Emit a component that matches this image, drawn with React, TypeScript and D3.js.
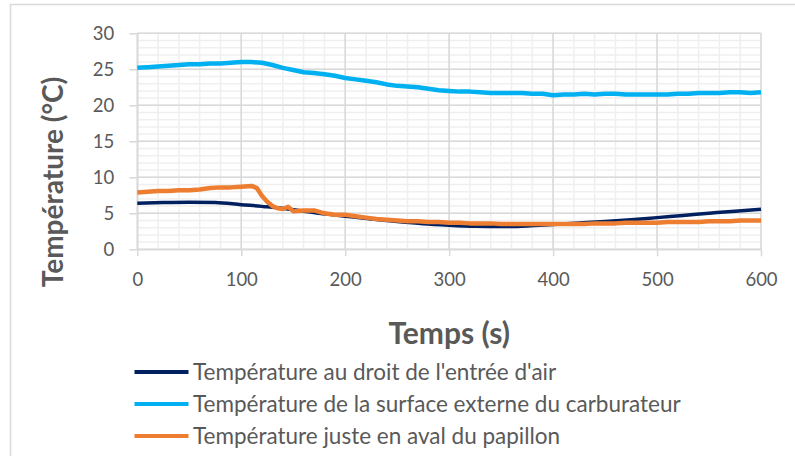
import React, { useRef, useEffect } from 'react';
import * as d3 from 'd3';

// time (s) and temperatures (°C)
const timeAir = [0, 25, 50, 75, 100, 125, 150, 175, 200, 225, 250, 275, 300, 325, 350, 375, 400, 425, 450, 475, 500, 525, 550, 575, 600];
const tempAir = [6.4, 6.5, 6.55, 6.5, 6.2, 5.9, 5.5, 5.0, 4.6, 4.2, 3.85, 3.55, 3.35, 3.2, 3.15, 3.25, 3.45, 3.65, 3.85, 4.1, 4.4, 4.7, 5.0, 5.3, 5.55];

const timeSurf = d3.range(0, 601, 10);
const tempSurf = [
  25.2, 25.3, 25.4, 25.5, 25.6, 25.7, 25.7, 25.8, 25.8, 25.9,
  26.0, 26.0, 25.9, 25.6, 25.2, 24.9, 24.6, 24.5, 24.3, 24.1,
  23.8, 23.6, 23.4, 23.2, 22.9, 22.7, 22.6, 22.5, 22.3, 22.1,
  22.0, 21.9, 21.9, 21.8, 21.7, 21.7, 21.7, 21.7, 21.6, 21.6,
  21.4, 21.5, 21.5, 21.6, 21.5, 21.6, 21.6, 21.5, 21.5, 21.5,
  21.5, 21.5, 21.6, 21.6, 21.7, 21.7, 21.7, 21.8, 21.8, 21.7,
  21.8,
];

const timeThrottle = [0, 10, 20, 30, 40, 50, 60, 70, 80, 90, 100, 110, 115, 120, 125, 130, 135, 140, 145, 150, 160, 170, 180, 190, 200, 210, 220, 230, 240, 250, 260, 270, 280, 290, 300, 310, 320, 330, 340, 350, 360, 370, 380, 390, 400, 410, 420, 430, 440, 450, 460, 470, 480, 490, 500, 510, 520, 530, 540, 550, 560, 570, 580, 590, 600];
const tempThrottle = [7.9, 8.0, 8.1, 8.1, 8.2, 8.2, 8.3, 8.5, 8.6, 8.6, 8.7, 8.8, 8.5, 7.4, 6.6, 6.0, 5.7, 5.6, 5.9, 5.3, 5.4, 5.4, 5.0, 4.8, 4.8, 4.6, 4.4, 4.2, 4.1, 4.0, 3.9, 3.9, 3.8, 3.8, 3.7, 3.7, 3.6, 3.6, 3.6, 3.5, 3.5, 3.5, 3.5, 3.5, 3.5, 3.5, 3.5, 3.5, 3.6, 3.6, 3.6, 3.7, 3.7, 3.7, 3.7, 3.8, 3.8, 3.8, 3.8, 3.9, 3.9, 3.9, 4.0, 4.0, 4.0];

const seriesNames = [
  "Température au droit de l'entrée d'air",
  'Température de la surface externe du carburateur',
  'Température juste en aval du papillon',
];
const seriesColors = ['#002060', '#00B0F0', '#ED7D31'];

const xTicks = [0, 100, 200, 300, 400, 500, 600];
const yTicks = [0, 5, 10, 15, 20, 25, 30];

const App = () => {
  const svgRef = useRef<SVGSVGElement>(null);

  useEffect(() => {
    const width = 795;
    const height = 456;
    const margin = { top: 33.3, right: 34, bottom: 206.7, left: 137.3 };
    const font = 'Lato, "Open Sans", sans-serif';
    const grey = '#595959';

    const svg = d3.select(svgRef.current)
      .attr('width', width)
      .attr('height', height)
      .style('background', 'white');
    svg.selectAll('*').remove();

    // chart area border (right and bottom edges fall outside the picture)
    svg.append('rect')
      .attr('x', 10.5).attr('y', 4.5)
      .attr('width', 900).attr('height', 600)
      .attr('fill', 'white')
      .attr('stroke', '#d9d9d9')
      .attr('stroke-width', 1.5);

    const xScale = d3.scaleLinear().domain([0, 600]).range([margin.left, width - margin.right]);
    const yScale = d3.scaleLinear().domain([0, 30]).range([height - margin.bottom, margin.top]);

    // minor gridlines
    const g = svg.append('g');
    d3.range(0, 601, 20).forEach(v => {
      g.append('line')
        .attr('x1', xScale(v)).attr('x2', xScale(v))
        .attr('y1', yScale(0)).attr('y2', yScale(30))
        .attr('stroke', '#efefef').attr('stroke-width', 1.5);
    });
    d3.range(0, 31, 1).forEach(v => {
      g.append('line')
        .attr('x1', xScale(0)).attr('x2', xScale(600))
        .attr('y1', yScale(v)).attr('y2', yScale(v))
        .attr('stroke', '#efefef').attr('stroke-width', 1.5);
    });
    // major gridlines
    xTicks.forEach(v => {
      g.append('line')
        .attr('x1', xScale(v)).attr('x2', xScale(v))
        .attr('y1', yScale(0)).attr('y2', yScale(30))
        .attr('stroke', '#d9d9d9').attr('stroke-width', 1.5);
    });
    yTicks.forEach(v => {
      g.append('line')
        .attr('x1', xScale(0)).attr('x2', xScale(600))
        .attr('y1', yScale(v)).attr('y2', yScale(v))
        .attr('stroke', '#d9d9d9').attr('stroke-width', 1.5);
    });

    // axes
    const xAxis = d3.axisBottom(xScale).tickValues(xTicks).tickSize(7).tickPadding(17).tickSizeOuter(0);
    const yAxis = d3.axisLeft(yScale).tickValues(yTicks).tickSize(8).tickPadding(15).tickSizeOuter(0);

    const xg = svg.append('g')
      .attr('transform', `translate(0,${yScale(0)})`)
      .call(xAxis);
    const yg = svg.append('g')
      .attr('transform', `translate(${xScale(0)},0)`)
      .call(yAxis);
    [xg, yg].forEach(a => {
      a.select('.domain').attr('stroke', '#d9d9d9').attr('stroke-width', 1.5);
      a.selectAll('.tick line').attr('stroke', '#d9d9d9').attr('stroke-width', 1.5);
      a.selectAll('text')
        .attr('fill', grey)
        .style('font-family', font)
        .style('font-size', '18.5px');
    });

    // curves
    const lines = [
      { t: timeAir, v: tempAir, w: 3.5, curve: d3.curveMonotoneX },
      { t: timeSurf, v: tempSurf, w: 4.5, curve: d3.curveLinear },
      { t: timeThrottle, v: tempThrottle, w: 4.5, curve: d3.curveLinear },
    ];
    lines.forEach((s, i) => {
      const line = d3.line<number>()
        .x((d, j) => xScale(s.t[j]))
        .y(d => yScale(d))
        .curve(s.curve);
      svg.append('path')
        .datum(s.v)
        .attr('fill', 'none')
        .attr('stroke', seriesColors[i])
        .attr('stroke-width', s.w)
        .attr('stroke-linejoin', 'round')
        .attr('d', line);
    });

    // axis titles
    svg.append('text')
      .attr('text-anchor', 'middle')
      .attr('x', (xScale(0) + xScale(600)) / 2)
      .attr('y', 344)
      .attr('fill', grey)
      .attr('font-weight', 'bold')
      .style('font-family', font)
      .style('font-size', '30px')
      .text('Temps (s)');

    svg.append('text')
      .attr('text-anchor', 'middle')
      .attr('transform', `translate(63,182) rotate(-90)`)
      .attr('fill', grey)
      .attr('font-weight', 'bold')
      .style('font-family', font)
      .style('font-size', '28px')
      .text('Température (°C)');

    // legend
    const legendY = [372, 404, 436];
    seriesNames.forEach((name, i) => {
      svg.append('line')
        .attr('x1', 134.5).attr('x2', 188.5)
        .attr('y1', legendY[i]).attr('y2', legendY[i])
        .attr('stroke', seriesColors[i])
        .attr('stroke-width', 4);
      svg.append('text')
        .attr('x', 193)
        .attr('y', legendY[i])
        .attr('dy', '0.35em')
        .attr('fill', grey)
        .style('font-family', font)
        .style('font-size', '22.5px')
        .text(name);
    });
  }, []);

  return (
    <div style={{ position: 'absolute', left: 0, top: 0, background: 'white' }}>
      <svg ref={svgRef} style={{ display: 'block' }}></svg>
    </div>
  );
};

export default App;
